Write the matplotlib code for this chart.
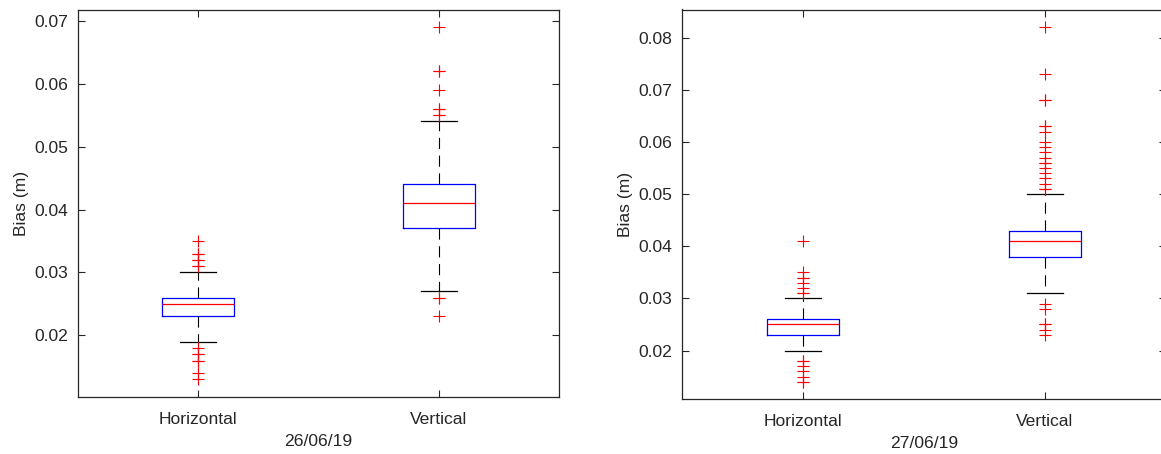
import numpy as np
import matplotlib.pyplot as plt

plt.rcParams['font.family'] = ['Liberation Sans', 'DejaVu Sans']

# category / day labels
categories = ["Horizontal", "Vertical"]
days = ["26/06/19", "27/06/19"]

# box statistics (Horizontal, Vertical)
q1_26 = [0.023, 0.037]
med_26 = [0.025, 0.041]
q3_26 = [0.026, 0.044]
lo_26 = [0.019, 0.027]
hi_26 = [0.030, 0.054]
fliers_26 = [
    [0.035, 0.033, 0.033, 0.032, 0.032, 0.031, 0.031,
     0.018, 0.017, 0.017, 0.016, 0.016, 0.014, 0.013],
    [0.069, 0.062, 0.062, 0.059, 0.056, 0.056, 0.055, 0.055,
     0.026, 0.026, 0.023],
]

q1_27 = [0.023, 0.038]
med_27 = [0.025, 0.041]
q3_27 = [0.026, 0.043]
lo_27 = [0.020, 0.031]
hi_27 = [0.030, 0.050]
fliers_27 = [
    [0.041, 0.035, 0.034, 0.034, 0.033, 0.032, 0.031, 0.031,
     0.018, 0.018, 0.017, 0.016, 0.015, 0.014, 0.014],
    [0.082, 0.073, 0.068, 0.068, 0.063, 0.063, 0.062, 0.060, 0.059,
     0.058, 0.057, 0.056, 0.056, 0.055, 0.054, 0.053, 0.052, 0.051, 0.051,
     0.029, 0.028, 0.025, 0.025, 0.024, 0.023],
]

ylims = [(0.0102, 0.0718), (0.0107, 0.0854)]
yticks = [[0.02, 0.03, 0.04, 0.05, 0.06, 0.07],
          [0.02, 0.03, 0.04, 0.05, 0.06, 0.07, 0.08]]

txt = (0.15, 0.15, 0.15)


def make_stats(q1, med, q3, lo, hi, fl):
    out = []
    for i in range(len(categories)):
        out.append(dict(label=categories[i], q1=q1[i], med=med[i], q3=q3[i],
                        whislo=lo[i], whishi=hi[i], fliers=np.array(fl[i])))
    return out


stats = [make_stats(q1_26, med_26, q3_26, lo_26, hi_26, fliers_26),
         make_stats(q1_27, med_27, q3_27, lo_27, hi_27, fliers_27)]

fig = plt.figure(figsize=(11.61, 4.54), dpi=100)
ax1 = fig.add_axes([78 / 1161, 1 - 397 / 454, 481 / 1161, 387.5 / 454])
ax2 = fig.add_axes([682 / 1161, 1 - 399 / 454, 484 / 1161, 389.5 / 454])

for k, ax in enumerate([ax1, ax2]):
    ax.bxp(stats[k], positions=[1, 2], widths=0.3, showfliers=True,
           boxprops=dict(color='blue', linewidth=0.9),
           medianprops=dict(color='red', linewidth=0.9),
           whiskerprops=dict(color='black', linewidth=0.8, linestyle=(0, (10, 6))),
           capprops=dict(color='black', linewidth=0.9),
           capwidths=0.15,
           flierprops=dict(marker='+', markeredgecolor='red', markersize=8,
                           markeredgewidth=0.8, linestyle='none'))
    ax.set_xlim(0.5, 2.5)
    ax.set_ylim(*ylims[k])
    ax.set_yticks(yticks[k])
    ax.set_yticklabels([f"{v:.2f}" for v in yticks[k]])
    ax.set_xticks([1, 2])
    ax.set_xticklabels(categories)
    ax.tick_params(direction='in', length=5, width=0.8, colors=txt,
                   labelsize=12.6, top=True, right=True)
    ax.tick_params(axis='x', pad=11)
    ax.tick_params(axis='y', pad=7)
    for s in ax.spines.values():
        s.set_color(txt)
        s.set_linewidth(0.9)
    ax.set_xlabel(days[k], fontsize=12.6, color=txt, labelpad=5)
    ax.set_ylabel("Bias (m)", fontsize=12.6, color=txt, labelpad=4)

fig.savefig("out.png", dpi=100)
